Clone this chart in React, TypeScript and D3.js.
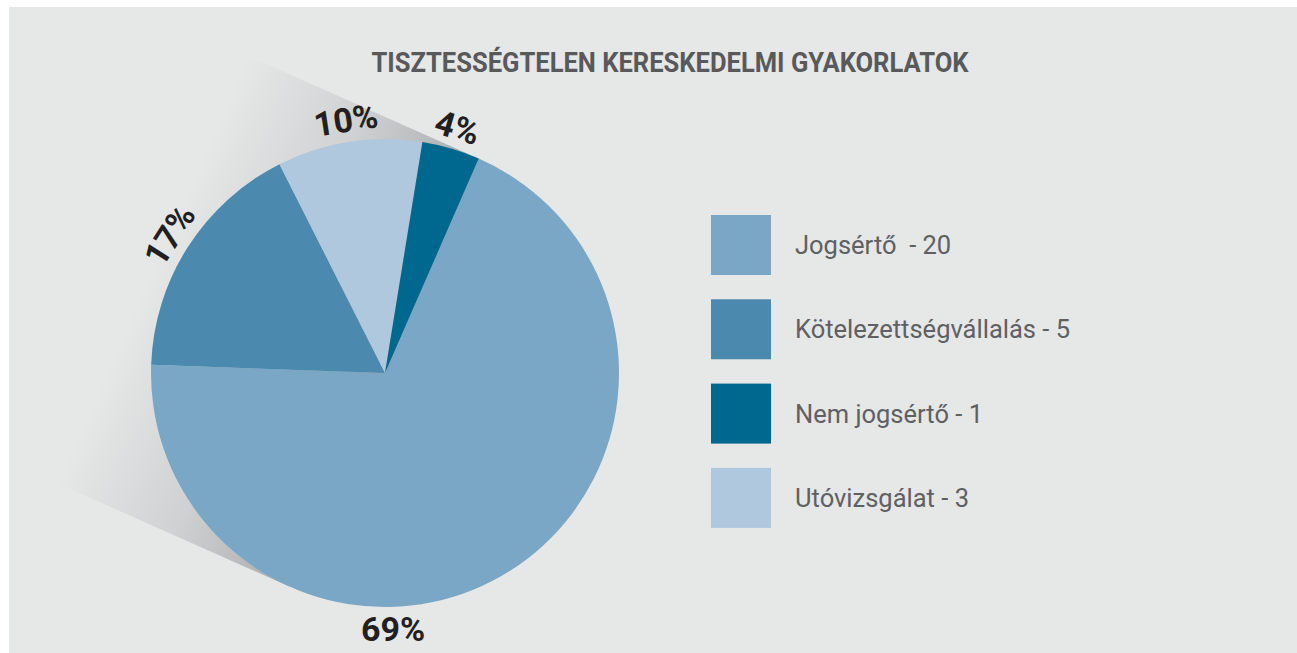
import React from "react";
import * as d3 from "d3";

const title = "TISZTESSÉGTELEN KERESKEDELMI GYAKORLATOK";
const categories = ["Jogsértő", "Kötelezettségvállalás", "Nem jogsértő", "Utóvizsgálat"];
const counts = [20, 5, 1, 3];
const percents = [69, 17, 4, 10];
const legendLabels = ["Jogsértő  - 20", "Kötelezettségvállalás - 5", "Nem jogsértő - 1", "Utóvizsgálat - 3"];
const colors = ["#79a7c5", "#4b8aae", "#00688f", "#b0c8dd"];
// clockwise order of slices in the pie
const pieOrder = [0, 1, 3, 2];

const W = 1297;
const H = 653;
const BG = "#e6e7e7";

export default function App() {
  const cx = 385;
  const cy = 373;
  const r = 234;
  const startDeg = 23.6;
  const start = (startDeg * Math.PI) / 180;

  const pieData = pieOrder.map((i) => ({ i, v: percents[i] }));
  const arcs = d3
    .pie<{ i: number; v: number }>()
    .sort(null)
    .value((d) => d.v)
    .startAngle(start)
    .endAngle(start + 2 * Math.PI)(pieData);
  const arcGen = d3.arc<any>().innerRadius(0).outerRadius(r);

  // long shadow
  const shAng = (24 * Math.PI) / 180;
  const dx = -Math.cos(shAng);
  const dy = -Math.sin(shAng);
  const nx = -dy;
  const ny = dx;
  const L = 420;
  const A = [cx + r * nx, cy + r * ny];
  const B = [cx - r * nx, cy - r * ny];
  const shadowPts = [A, [A[0] + L * dx, A[1] + L * dy], [B[0] + L * dx, B[1] + L * dy], B]
    .map((p) => p.join(","))
    .join(" ");

  const legendY = d3
    .scaleBand<number>()
    .domain(d3.range(categories.length))
    .range([215, 528])
    .paddingInner(0.287)
    .paddingOuter(0);

  const labelR = 256;

  return (
    <div style={{ position: "absolute", left: 0, top: 0 }}>
      <svg width={W} height={H} style={{ display: "block" }}>
        <defs>
          <linearGradient id="sh" gradientUnits="userSpaceOnUse" x1={cx} y1={cy} x2={cx + 255 * dx} y2={cy + 255 * dy}>
            <stop offset="0" stopColor="#a9aaac" />
            <stop offset="0.5" stopColor="#d0d1d2" />
            <stop offset="1" stopColor={BG} />
          </linearGradient>
          <clipPath id="panel">
            <rect x={9} y={7} width={W - 9} height={H - 7} />
          </clipPath>
        </defs>
        <rect x={0} y={0} width={W} height={H} fill="#ffffff" />
        <rect x={9} y={7} width={W - 9} height={H - 7} fill={BG} />
        <polygon points={shadowPts} fill="url(#sh)" clipPath="url(#panel)" />
        <g transform={`translate(${cx},${cy})`}>
          {arcs.map((a) => (
            <path key={a.data.i} d={arcGen(a) as string} fill={colors[a.data.i]} />
          ))}
          {arcs.map((a) => {
            const i = a.data.i;
            let ang = (a.startAngle + a.endAngle) / 2;
            let rot = (ang * 180) / Math.PI;
            while (rot > 180) rot -= 360;
            // large slice: label placed upright at the bottom
            if (Math.abs(rot) > 90) {
              ang = Math.PI * 0.99;
              rot = 0;
            }
            const x = labelR * Math.sin(ang);
            const y = -labelR * Math.cos(ang);
            return (
              <text
                key={"l" + i}
                transform={`translate(${x},${y}) rotate(${rot})`}
                textAnchor="middle"
                dominantBaseline="central"
                fontFamily="Roboto, sans-serif"
                fontWeight={700}
                fontSize={34}
                fill="#231f20"
              >
                {percents[i]}%
              </text>
            );
          })}
        </g>
        <text
          x={670}
          y={72}
          textAnchor="middle"
          fontFamily="Roboto, sans-serif"
          fontWeight={700}
          fontSize={27}
          fill="#58595b"
          textLength={597}
          lengthAdjust="spacingAndGlyphs"
        >
          {title}
        </text>
        {categories.map((c, i) => (
          <g key={c}>
            <rect x={711} y={legendY(i)} width={60} height={60} fill={colors[i]} />
            <text
              x={795}
              y={(legendY(i) as number) + 30 + 9}
              fontFamily="Roboto, sans-serif"
              fontWeight={400}
              fontSize={25.5}
              fill="#5f6062"
              style={{ whiteSpace: "pre" }}
            >
              {legendLabels[i]}
            </text>
          </g>
        ))}
      </svg>
    </div>
  );
}
